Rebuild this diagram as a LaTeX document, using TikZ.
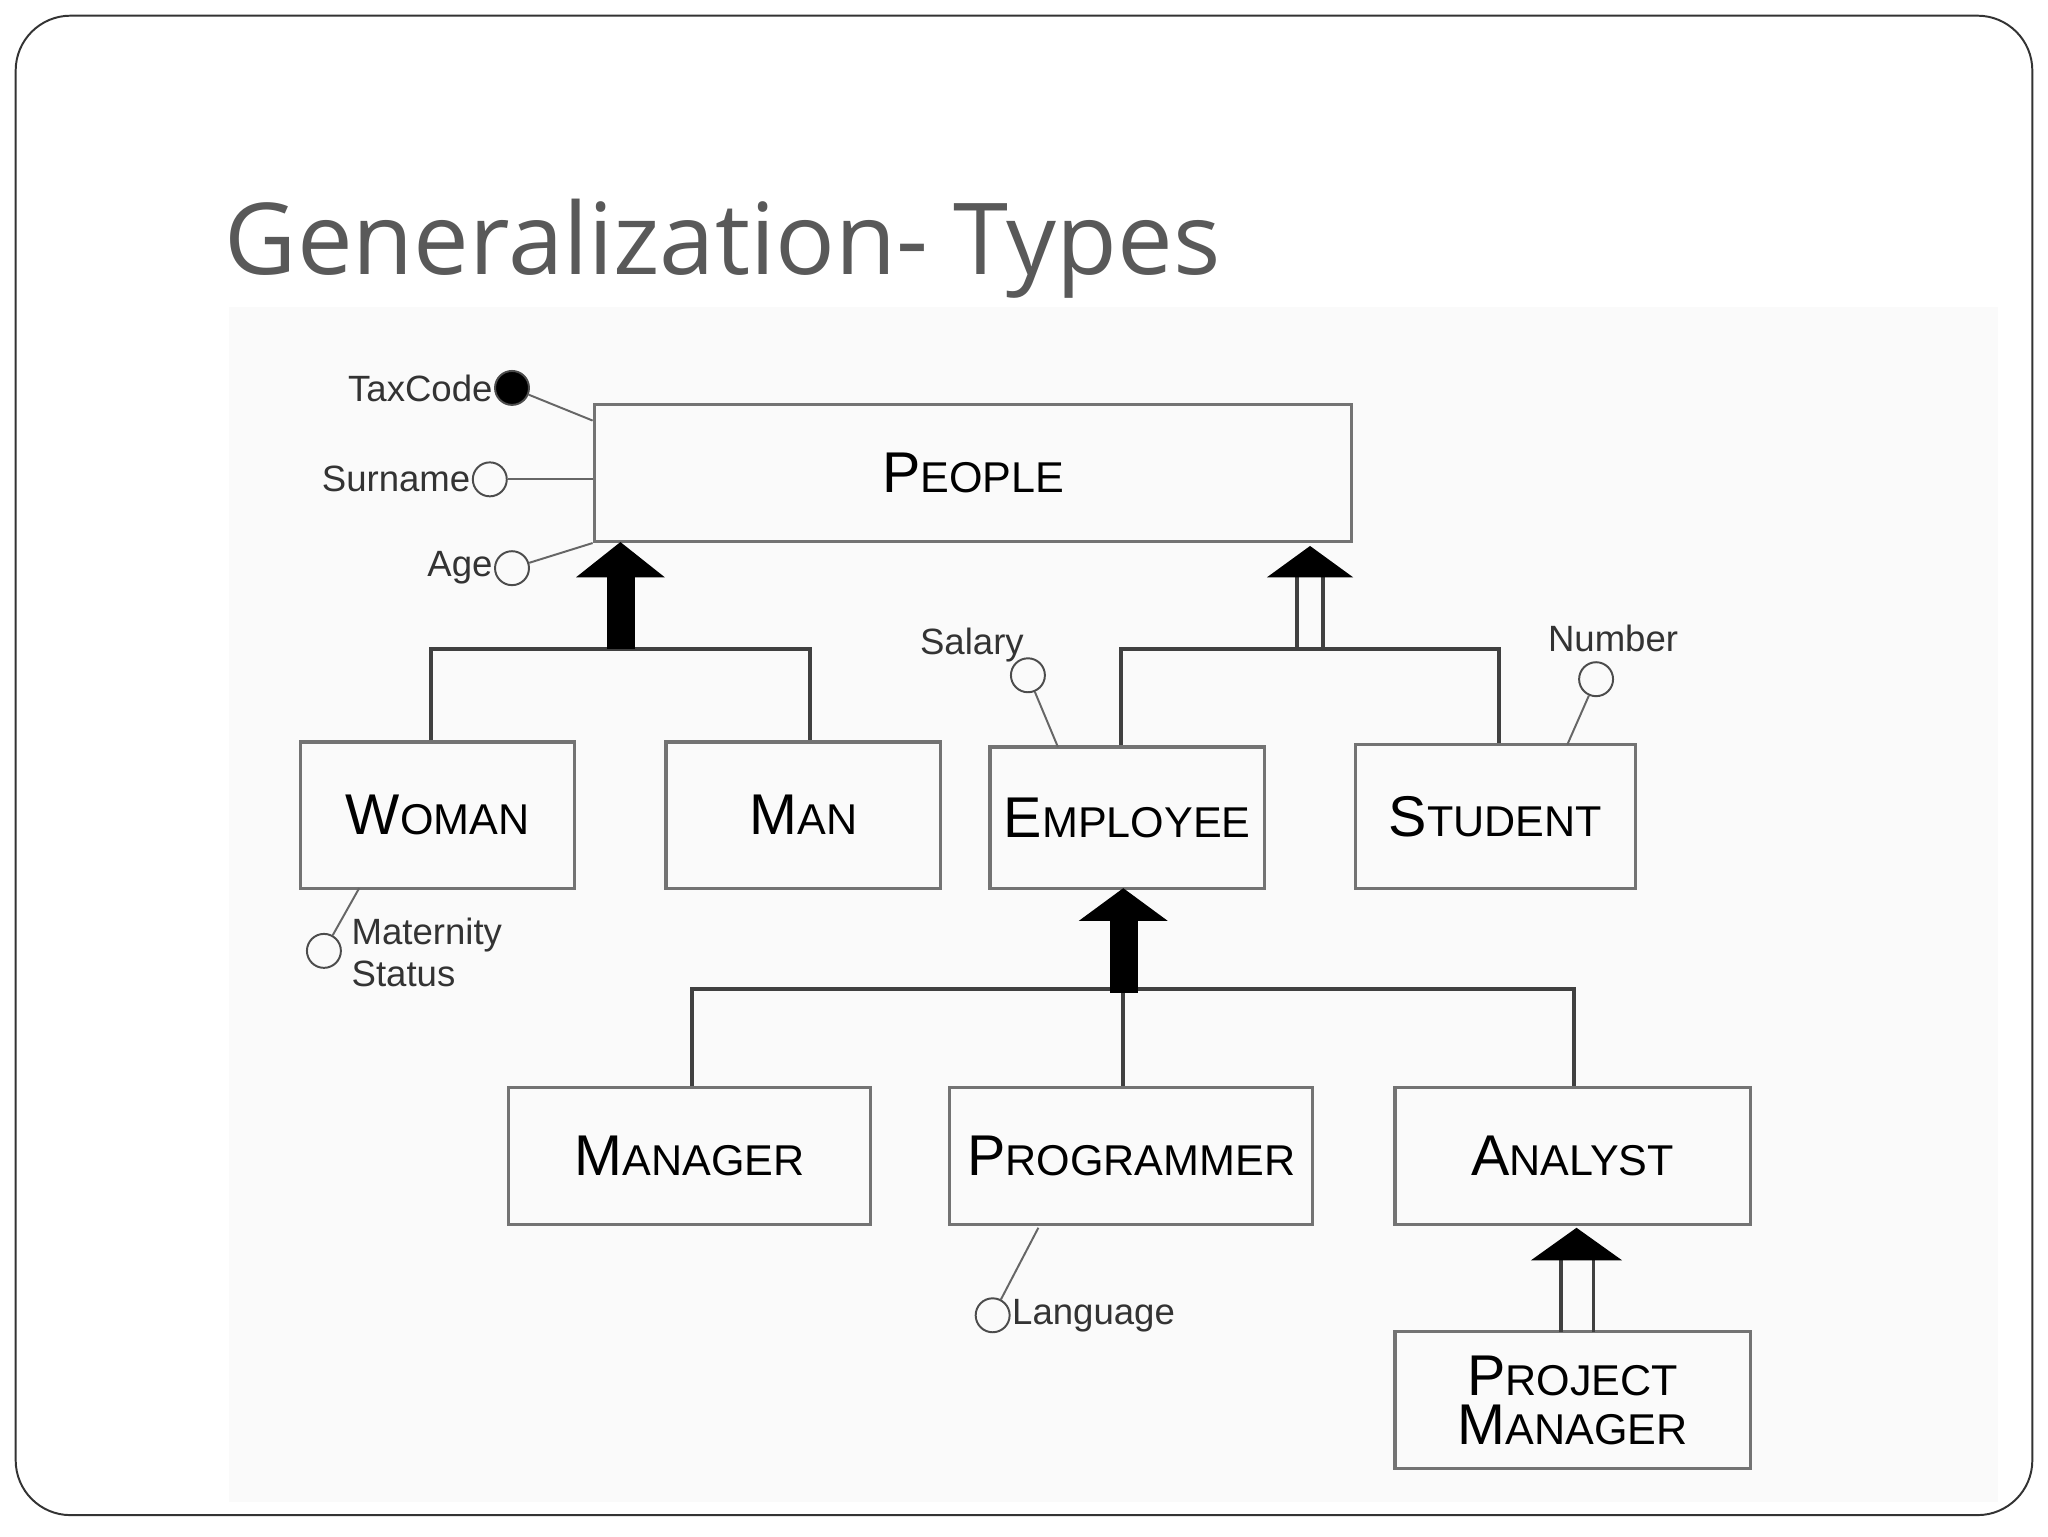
\documentclass[tikz,border=0pt]{standalone}
\usepackage{fontspec}
\setmainfont{Liberation Sans}
\newfontfamily\titlefont{Open Sans}
\newcommand{\smc}[2]{{\fontsize{44}{48}\selectfont #1}{\fontsize{33}{48}\selectfont #2}}
\begin{document}
\begin{tikzpicture}[x=1pt,y=-1pt,
  cls/.style={draw=black!55,line width=2.5pt,inner sep=0pt},
  att/.style={circle,draw=black!70,line width=1.5pt,minimum size=26pt,inner sep=0pt},
  lnk/.style={draw=black!60,line width=1.5pt},
  tree/.style={draw=black!75,line width=3pt},
  lab/.style={font=\fontsize{28}{32}\selectfont,text=black!80,inner sep=1pt}]
\useasboundingbox (0,0) rectangle (1568,1176);
\fill[white] (0,0) rectangle (1568,1176);
\draw[black!80,line width=1.5pt,rounded corners=42pt] (12,12) rectangle (1556,1160);
\fill[black!2] (175,235) rectangle (1530,1150);
\node[anchor=base west,text=black!65,font=\titlefont\fontsize{76}{80}\selectfont,inner sep=0] (title) at (172,210) {Generalization- Types};
% classes
\node[cls,minimum width=580pt,minimum height=105pt] (people) at (745,362) {\smc{P}{EOPLE}};
\node[cls,minimum width=210pt,minimum height=112pt] (woman) at (335,624) {\smc{W}{OMAN}};
\node[cls,minimum width=210pt,minimum height=112pt] (man) at (615,624) {\smc{M}{AN}};
\node[cls,minimum width=210pt,minimum height=108pt] (emp) at (863,626) {\smc{E}{MPLOYEE}};
\node[cls,minimum width=214pt,minimum height=110pt] (stu) at (1145,625) {\smc{S}{TUDENT}};
\node[cls,minimum width=277pt,minimum height=105pt] (mgr) at (528,885) {\smc{M}{ANAGER}};
\node[cls,minimum width=278pt,minimum height=105pt] (prog) at (866,885) {\smc{P}{ROGRAMMER}};
\node[cls,minimum width=272pt,minimum height=105pt] (ana) at (1204,885) {\smc{A}{NALYST}};
\node[cls,minimum width=272pt,minimum height=105pt,align=center] (pm) at (1204,1072) {\smc{P}{ROJECT}\\[6pt]\smc{M}{ANAGER}};
% hierarchy 1
\draw[tree] (woman.north -| 330,0) |- (620,497) -- (man.north -| 620,0);
\fill[black] (465,497) rectangle (486,440);
\fill[black] (441,442) -- (475,415) -- (509,442) -- cycle;
% hierarchy 2
\draw[tree] (emp.north -| 858,0) |- (1148,497) -- (stu.north -| 1148,0);
\draw[tree] (993,497) -- (993,440) (1013,497) -- (1013,440);
\fill[black] (970,442) -- (1003,418) -- (1036,442) -- cycle;
% hierarchy 3
\draw[tree] (mgr.north -| 530,0) |- (1205,757) -- (ana.north -| 1205,0);
\draw[tree] (860,757) -- (prog.north -| 860,0);
\fill[black] (850,760) rectangle (871,703);
\fill[black] (826,705) -- (860,680) -- (894,705) -- cycle;
% hierarchy 4
\draw[tree] (1195,1020) -- (1195,962) (1220,1020) -- (1220,962);
\fill[black] (1172,965) -- (1207,940) -- (1242,965) -- cycle;
% attributes
\node[att,fill=black] (tax) at (392,297) {};
\node[lab,anchor=east] (taxl) at (tax.west) {TaxCode};
\draw[lnk] (tax) -- (people.north west |- 0,322);
\node[att] (sur) at (375,367) {};
\node[lab,anchor=east] (surl) at (sur.west) {Surname};
\draw[lnk] (sur) -- (people.west |- 0,367);
\node[att] (age) at (392,435) {};
\node[lab,anchor=east] (agel) at (age.west) {Age};
\draw[lnk] (age) -- (people.south west);
\node[att] (sal) at (787,517) {};
\node[lab,anchor=south east] (sall) at (785,508) {Salary};
\coordinate (salc) at (810,572);
\draw[lnk] (sal) -- (salc);
\node[att] (num) at (1222,520) {};
\node[lab,anchor=south] (numl) at (1235,500) {Number};
\coordinate (numc) at (1200,570);
\draw[lnk] (num) -- (numc);
\node[att] (mat) at (248,728) {};
\node[lab,anchor=north west,align=left] (matl) at (268,702) {Maternity\\Status};
\coordinate (matc) at (275,680);
\draw[lnk] (mat) -- (matc);
\node[att] (lang) at (760,1007) {};
\node[lab,anchor=west] (langl) at (lang.east) {Language};
\coordinate (langc) at (795,940);
\draw[lnk] (lang) -- (langc);
\end{tikzpicture}
\end{document}
